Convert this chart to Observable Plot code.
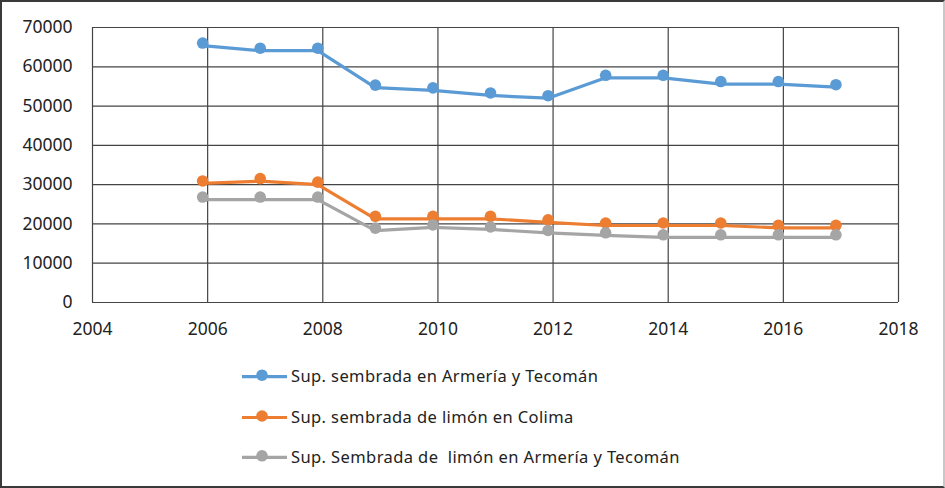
<!DOCTYPE html>
<html>
<head>
<meta charset="utf-8">
<script src="https://cdn.jsdelivr.net/npm/d3@7"></script>
<script src="https://cdn.jsdelivr.net/npm/@observablehq/plot@0.6"></script>
<style>
  html, body { margin: 0; padding: 0; background: #fff; }
  #wrap { position: relative; width: 945px; height: 488px; overflow: hidden; font-family: "Noto Sans", sans-serif; }
  #border { position: absolute; left: 0; top: 0; width: 945px; height: 488px; box-sizing: border-box;
            border: 2px solid #3a3a3a; border-right: 2px solid #c8c8c8; pointer-events: none; }
  #chart { position: absolute; left: 0; top: 0; }
  #legend { position: absolute; left: 0; top: 0; }
  #legend text { white-space: pre; }
</style>
</head>
<body>
<div id="wrap">
  <div id="chart"></div>
  <svg id="legend" width="945" height="488"></svg>
  <div id="border"></div>
</div>
<script>
const years = [2006, 2007, 2008, 2009, 2010, 2011, 2012, 2013, 2014, 2015, 2016, 2017];
const armeriaTecoman = [65400, 64100, 64100, 54700, 54000, 52700, 52000, 57200, 57200, 55600, 55600, 54800];
const limonColima = [30300, 30900, 30000, 21300, 21300, 21300, 20400, 19600, 19600, 19600, 19000, 19000];
const limonArmeriaTecoman = [26200, 26200, 26200, 18300, 19100, 18600, 17700, 17100, 16600, 16600, 16600, 16600];

const seriesNames = [
  "Sup. sembrada en Armería y Tecomán",
  "Sup. sembrada de limón en Colima",
  "Sup. Sembrada de  limón en Armería y Tecomán"
];
const seriesColors = ["#5B9BD5", "#ED7D31", "#A5A5A5"];
const xTicks = [2004, 2006, 2008, 2010, 2012, 2014, 2016, 2018];
const yTicks = [0, 10000, 20000, 30000, 40000, 50000, 60000, 70000];

const seriesValues = [armeriaTecoman, limonColima, limonArmeriaTecoman];
const data = [];
seriesValues.forEach((vals, si) => {
  years.forEach((yr, i) => data.push({year: yr, value: vals[i], series: seriesNames[si]}));
});

const chart = Plot.plot({
  width: 945,
  height: 340,
  marginLeft: 92,
  marginRight: 47,
  marginTop: 27,
  marginBottom: 38,
  style: { fontFamily: "Noto Sans, sans-serif", fontSize: "17.5px", color: "#222", background: "transparent" },
  x: { domain: [2004, 2018], label: null },
  y: { domain: [0, 70000], label: null },
  color: { domain: seriesNames, range: seriesColors },
  marks: [
    Plot.ruleX(xTicks, { stroke: "#444", strokeWidth: 1.2, strokeOpacity: 1 }),
    Plot.ruleY(yTicks, { stroke: "#444", strokeWidth: 1.2, strokeOpacity: 1 }),
    Plot.line(data, { x: "year", y: "value", z: "series", stroke: "series", strokeWidth: 3.2, dx: -5, curve: "linear" }),
    Plot.dot(data, { x: "year", y: "value", fill: "series", r: 5.8, dx: -5, dy: -2.5 }),
    Plot.axisX({ ticks: xTicks, tickSize: 0, tickPadding: 20, tickFormat: d => String(d), label: null, style: { letterSpacing: "0.8px" } }),
    Plot.axisY({ ticks: yTicks, tickSize: 0, tickPadding: 20, tickFormat: d => String(d), label: null, style: { letterSpacing: "0.8px" } })
  ]
});
document.getElementById("chart").appendChild(chart);

// Legend below the plot
const leg = d3.select("#legend");
const legendRows = [376.7, 417.5, 457.3];
seriesNames.forEach((name, i) => {
  const g = leg.append("g").attr("transform", `translate(0,${legendRows[i]})`);
  g.append("line").attr("x1", 242).attr("x2", 287).attr("y1", 0).attr("y2", 0)
    .attr("stroke", seriesColors[i]).attr("stroke-width", 3.2);
  g.append("circle").attr("cx", 262).attr("cy", -1.5).attr("r", 5.8).attr("fill", seriesColors[i]);
  g.append("text").attr("x", 291).attr("y", 0).attr("dy", "0.35em")
    .attr("font-family", "Noto Sans, sans-serif").attr("font-size", "16.5px")
    .attr("letter-spacing", "0.4px").attr("fill", "#222").text(name);
});
</script>
</body>
</html>
